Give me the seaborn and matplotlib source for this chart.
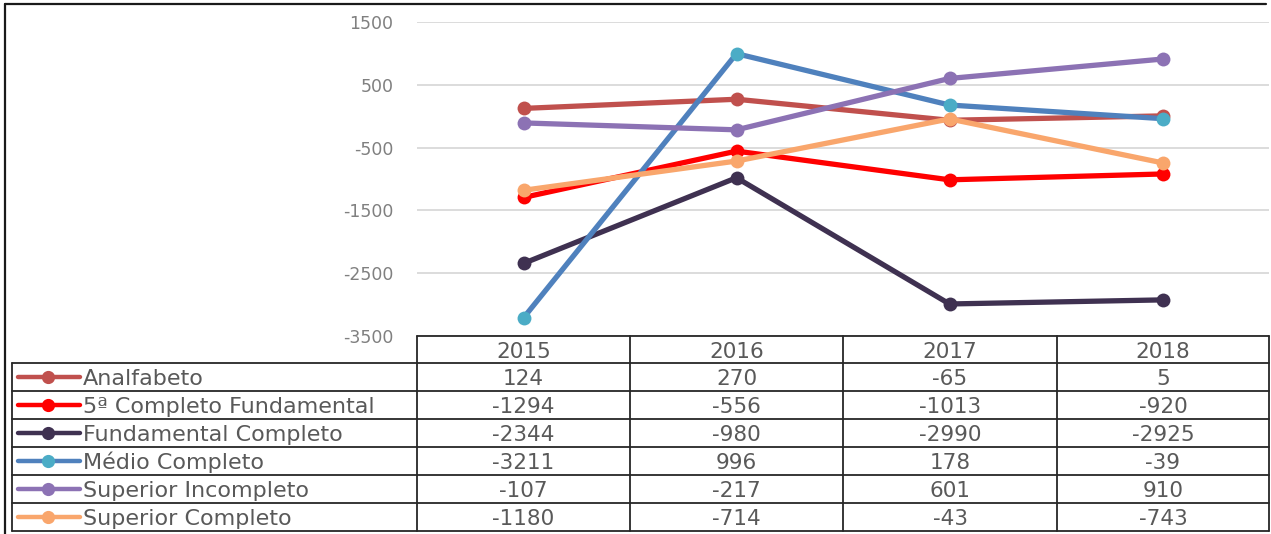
import numpy as np
import pandas as pd
import matplotlib
matplotlib.use("Agg")
import matplotlib.pyplot as plt
import seaborn as sns
from matplotlib.lines import Line2D

# ---------------- data ----------------
years = [2015, 2016, 2017, 2018]
series_names = [
    "Analfabeto",
    "5ª Completo Fundamental",
    "Fundamental Completo",
    "Médio Completo",
    "Superior Incompleto",
    "Superior Completo",
]
analfabeto = [124, 270, -65, 5]
quinta_completo_fund = [-1294, -556, -1013, -920]
fundamental_completo = [-2344, -980, -2990, -2925]
medio_completo = [-3211, 996, 178, -39]
superior_incompleto = [-107, -217, 601, 910]
superior_completo = [-1180, -714, -43, -743]
yticks = [1500, 500, -500, -1500, -2500, -3500]

values = [analfabeto, quinta_completo_fund, fundamental_completo,
          medio_completo, superior_incompleto, superior_completo]

line_colors = ["#C0504D", "#FF0000", "#3F3151", "#4F81BD", "#8C72B4", "#F9A66C"]
marker_colors = ["#C0504D", "#FF0000", "#3F3151", "#4BACC6", "#8C72B4", "#F9A66C"]

df = pd.DataFrame(
    [(name, y, v) for name, vals in zip(series_names, values) for y, v in zip(years, vals)],
    columns=["serie", "ano", "valor"],
)

# ---------------- figure ----------------
W, H = 1271, 534
sns.set_theme(style="white")
plt.rcParams["font.family"] = ["DejaVu Sans"]
fig = plt.figure(figsize=(W / 100, H / 100), dpi=100)
fig.patch.set_facecolor("white")


def fx(px):
    return px / W


def fy(py):
    return 1 - py / H


col_x = [12, 417, 630, 843, 1057, 1269]
row_y = [336, 363, 391, 419, 447, 475, 503, 531]

ax = fig.add_axes([fx(col_x[1]), fy(row_y[0]), fx(col_x[-1]) - fx(col_x[1]), fy(22) - fy(row_y[0])])

sns.lineplot(
    data=df, x="ano", y="valor", hue="serie", hue_order=series_names,
    palette=dict(zip(series_names, line_colors)), marker="o", markersize=10,
    linewidth=3.8, errorbar=None, legend=False, sort=False, ax=ax,
)
for ln, mc in zip(ax.lines, marker_colors):
    ln.set_markerfacecolor(mc)
    ln.set_markeredgecolor(mc)
    ln.set_markeredgewidth(0)

ax.set_xlim(years[0] - 0.5, years[-1] + 0.5)
ax.set_ylim(min(yticks), max(yticks))
ax.set_yticks(yticks)
ax.set_yticklabels([str(t) for t in yticks])
ax.set_xticks([])
ax.set_xlabel("")
ax.set_ylabel("")
ax.tick_params(axis="y", length=0, pad=17, labelsize=12.5, labelcolor="#808080")
ax.yaxis.grid(True, color="#D9D9D9", linewidth=1.3)
ax.set_axisbelow(True)
for s in ax.spines.values():
    s.set_visible(False)

# ---------------- data table ----------------
lc = "#262626"
lw = 1.3


def hline(y, x0, x1, w=lw, c=lc):
    fig.add_artist(Line2D([fx(x0), fx(x1)], [fy(y), fy(y)], color=c, linewidth=w))


def vline(x, y0, y1, w=lw, c=lc):
    fig.add_artist(Line2D([fx(x), fx(x)], [fy(y0), fy(y1)], color=c, linewidth=w))


# header row
hline(row_y[0], col_x[1], col_x[-1])
for y in row_y[1:]:
    hline(y, col_x[0], col_x[-1])
vline(col_x[0], row_y[1], row_y[-1])
for x in col_x[1:]:
    vline(x, row_y[0], row_y[-1])

txt_color = "#595959"
for j, yr in enumerate(years):
    cx = (col_x[j + 1] + col_x[j + 2]) / 2
    cy = (row_y[0] + row_y[1]) / 2
    fig.text(fx(cx), fy(cy + 8), str(yr), ha="center", va="baseline", fontsize=15.5, color=txt_color)

for i, (name, vals) in enumerate(zip(series_names, values)):
    cy = (row_y[i + 1] + row_y[i + 2]) / 2
    # legend key
    fig.add_artist(Line2D([fx(18), fx(80)], [fy(cy), fy(cy)], color=line_colors[i], linewidth=3.2))
    fig.add_artist(Line2D([fx(48)], [fy(cy)], color=line_colors[i], marker="o", markersize=9.5,
                          markerfacecolor=marker_colors[i], markeredgewidth=0, linestyle="none"))
    fig.text(fx(83), fy(cy + 8), name, ha="left", va="baseline", fontsize=16, color=txt_color)
    for j, v in enumerate(vals):
        cx = (col_x[j + 1] + col_x[j + 2]) / 2
        fig.text(fx(cx), fy(cy + 8), str(v), ha="center", va="baseline", fontsize=15.5, color=txt_color)

# ---------------- outer frame ----------------
hline(4, 5, 1266, w=1.6, c="#1a1a1a")
vline(5, 4, 534, w=1.6, c="#1a1a1a")

fig.savefig("out.png", dpi=100, facecolor="white")
